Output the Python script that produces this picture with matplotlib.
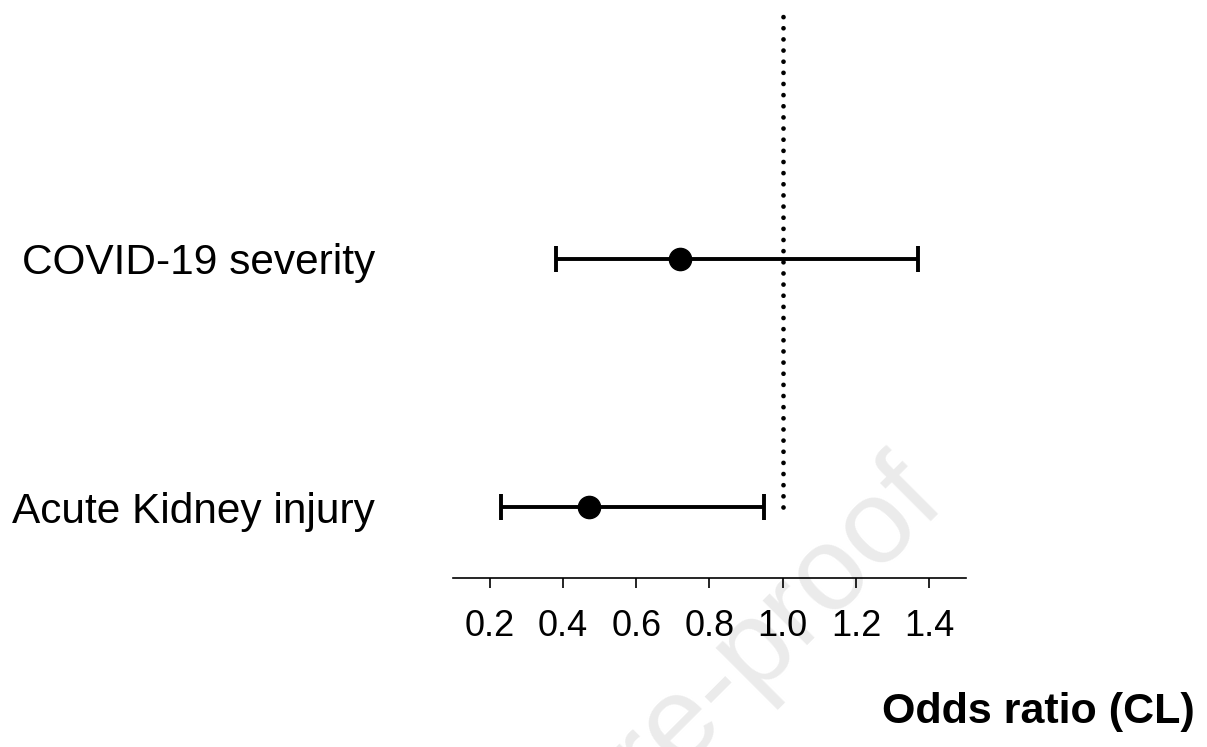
import matplotlib
matplotlib.use("Agg")
import matplotlib.pyplot as plt
import numpy as np

plt.rcParams['font.family'] = ['Liberation Sans', 'DejaVu Sans']

# Dati (odds ratio con limiti di confidenza)
etichette = ["Acute Kidney injury", "COVID-19 severity"]
odds_ratio = [0.47, 0.72]
cl_basso = [0.23, 0.38]
cl_alto = [0.95, 1.37]
tick_x = [0.2, 0.4, 0.6, 0.8, 1.0, 1.2, 1.4]

fig = plt.figure(figsize=(12.07, 7.47), dpi=100)
ax = fig.add_axes([0.3753, 0.2262, 0.8003 - 0.3753, 0.9866 - 0.2262])
ax.set_zorder(1)
ax.patch.set_alpha(0)

y_pos = np.arange(1, len(etichette) + 1)
err = [np.array(odds_ratio) - np.array(cl_basso), np.array(cl_alto) - np.array(odds_ratio)]

ax.errorbar(odds_ratio, y_pos, xerr=err, fmt='o', color='black', markersize=16,
            elinewidth=2.8, capsize=9.5, capthick=2.8, zorder=3)

# linea di riferimento a OR = 1
ax.plot([1.0, 1.0], [1.0, 3.0], color='black', linewidth=3.4,
        linestyle=(0, (0.01, 2.35)), dash_capstyle='round', zorder=2)

ax.set_xlim(0.1, 1.5)
ax.set_ylim(0.715, 3.0)
ax.set_xticks(tick_x)
ax.set_xticklabels([f"{t:.1f}" for t in tick_x])
ax.set_yticks(y_pos)
ax.set_yticklabels(etichette)

for s in ['top', 'right', 'left']:
    ax.spines[s].set_visible(False)
ax.spines['bottom'].set_linewidth(1.2)
ax.tick_params(axis='x', direction='out', length=7, width=1.2, labelsize=26, pad=15)
ax.tick_params(axis='y', length=0, labelsize=30.5, pad=56)

fig.text(0.990, 0.0469, "Odds ratio (CL)", ha='right', va='center',
         fontsize=31, fontweight='bold')

# filigrana
fig.text(948 / 1207, 1 - 505 / 747, "Journal Pre-proof", ha='right', va='baseline',
         rotation=45, rotation_mode='anchor', fontsize=86, color='#ebebeb', zorder=0)

fig.savefig("out.png", dpi=100)
